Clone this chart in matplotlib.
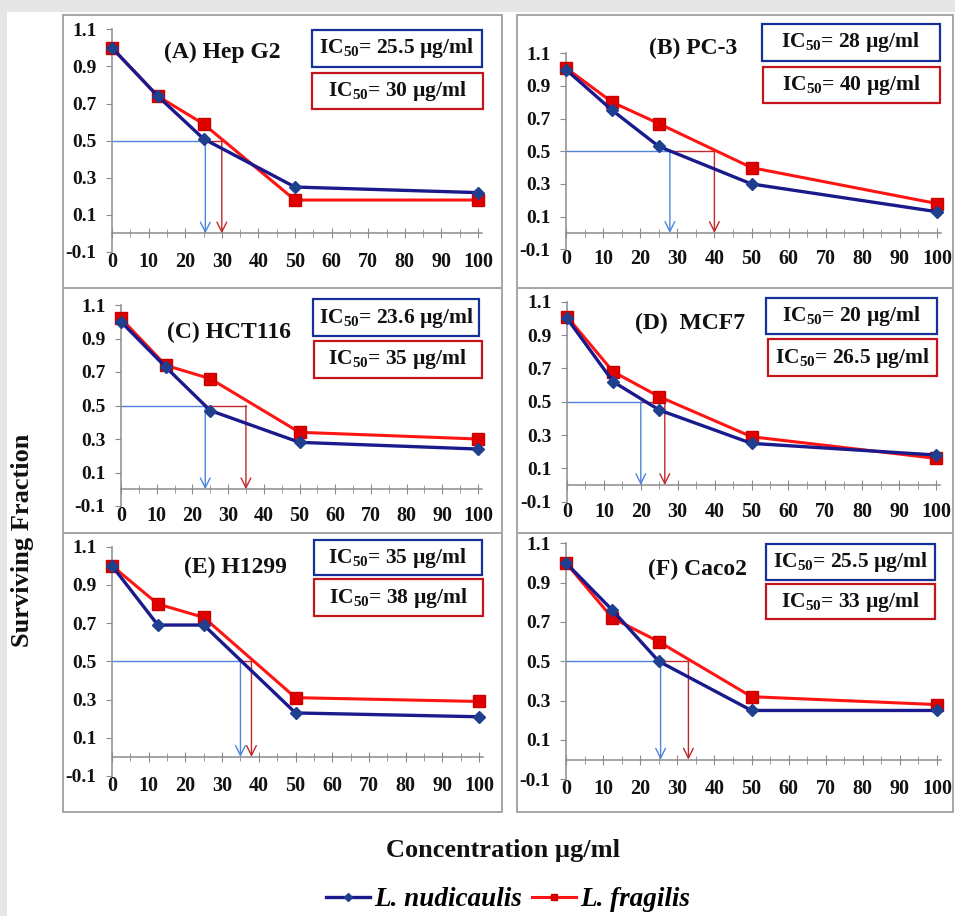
import matplotlib
matplotlib.use("Agg")
import matplotlib.pyplot as plt
from matplotlib.patches import Rectangle
from matplotlib.lines import Line2D

# ── fonts ──
plt.rcParams['font.family'] = ['Liberation Serif', 'DejaVu Serif']
plt.rcParams['font.weight'] = 'bold'
plt.rcParams['mathtext.fontset'] = 'custom'
plt.rcParams['mathtext.rm'] = 'Liberation Serif:bold'
plt.rcParams['mathtext.it'] = 'Liberation Serif:bold'
plt.rcParams['mathtext.bf'] = 'Liberation Serif:bold'

# ── data ──
conc = [0, 12.5, 25, 50, 100]

hepg2_nud = [1.00, 0.74, 0.51, 0.25, 0.22]
hepg2_frag = [1.00, 0.74, 0.59, 0.18, 0.18]
pc3_nud = [1.00, 0.75, 0.53, 0.30, 0.13]
pc3_frag = [1.01, 0.80, 0.67, 0.40, 0.18]
hct116_nud = [1.00, 0.73, 0.47, 0.28, 0.24]
hct116_frag = [1.02, 0.74, 0.66, 0.34, 0.30]
mcf7_nud = [1.00, 0.62, 0.45, 0.25, 0.18]
mcf7_frag = [1.01, 0.68, 0.53, 0.29, 0.16]
h1299_nud = [1.00, 0.69, 0.69, 0.23, 0.21]
h1299_frag = [1.00, 0.80, 0.73, 0.31, 0.29]
caco2_nud = [1.00, 0.76, 0.50, 0.25, 0.25]
caco2_frag = [1.00, 0.72, 0.60, 0.32, 0.28]

titles = ['(A) Hep G2', '(B) PC-3', '(C) HCT116', '(D)  MCF7', '(E) H1299', '(F) Caco2']
ic50_nud = [25.5, 28, 23.6, 20, 35, 25.5]
ic50_frag = [30, 40, 35, 26.5, 38, 33]
ic50_nud_txt = ['25.5', '28', '23.6', '20', '35', '25.5']
ic50_frag_txt = ['30', '40', '35', '26.5', '38', '33']

nud_sets = [hepg2_nud, pc3_nud, hct116_nud, mcf7_nud, h1299_nud, caco2_nud]
frag_sets = [hepg2_frag, pc3_frag, hct116_frag, mcf7_frag, h1299_frag, caco2_frag]

# ── layout (pixels of the 955x916 picture) ──
W, H = 955, 916
ax_left = [112, 566, 121, 567, 112, 566]
ax_x100 = [478, 937, 478, 936, 479, 937]
ax_top = [29.3, 53.3, 305, 301.7, 546.7, 543.3]
ax_bot = [252, 249.3, 506, 501.7, 776, 779.3]
frames = [(63, 15, 502, 288), (517, 15, 953, 288),
          (63, 288, 502, 533), (517, 288, 953, 533),
          (63, 533, 502, 812), (517, 533, 953, 812)]
title_pos = [(222, 52), (693, 48), (229, 332), (690, 323), (235, 567), (697, 569)]
box_nud = [(311.7, 30, 481.7, 66.7), (761.7, 24, 940, 61), (313, 299, 479, 336),
           (766, 298, 937, 334), (314, 540, 481.7, 575), (766, 544, 935, 580)]
box_frag = [(311.7, 72.7, 483, 109.3), (762.7, 66.7, 940, 102.7), (314, 341, 481.7, 377.7),
            (767.7, 339, 937, 376), (314, 579, 483, 616), (766, 584, 935, 619)]

NAVY = '#1a1a8c'
NAVY_MK = '#1f3f8f'
RED = '#ff1414'
RED_MK = '#e00000'
IC_BLUE = '#4f84dc'
IC_RED = '#c0282d'
GRAY = '#8c8c8c'


def fx(x):
    return x / W


def fy(y):
    return 1 - y / H


fig = plt.figure(figsize=(9.55, 9.16), dpi=100)
fig.patch.set_facecolor('#e6e6e6')
fig.add_artist(Rectangle((fx(7), 0), 1 - fx(7), fy(12), transform=fig.transFigure,
                         facecolor='white', edgecolor='none', zorder=-10))

for (x0, y0, x1, y1) in frames:
    fig.add_artist(Rectangle((fx(x0), fy(y1)), (x1 - x0) / W, (y1 - y0) / H,
                             transform=fig.transFigure, facecolor='none',
                             edgecolor='#a6a6a6', lw=1.4, zorder=-5))


def px_box(b, color, text):
    x0, y0, x1, y1 = b
    fig.add_artist(Rectangle((fx(x0), fy(y1)), (x1 - x0) / W, (y1 - y0) / H,
                             transform=fig.transFigure, facecolor='white',
                             edgecolor=color, lw=1.6, zorder=5))
    fig.text(fx((x0 + x1) / 2), fy((y0 + y1) / 2), text, ha='center', va='center',
             fontsize=15.5, fontweight='bold', color='#111111', zorder=6)


for i in range(6):
    w = (ax_x100[i] - ax_left[i]) * 1.01
    ax = fig.add_axes([fx(ax_left[i]), fy(ax_bot[i]), w / W, (ax_bot[i] - ax_top[i]) / H])
    ax.set_facecolor('none')
    ax.set_xlim(0, 101)
    ax.set_ylim(-0.1, 1.1)

    # IC50 guide lines
    ax.plot([ic50_nud[i], ic50_frag[i]], [0.5, 0.5], color=IC_RED, lw=1.0, zorder=2)
    ax.plot([0, ic50_nud[i]], [0.5, 0.5], color=IC_BLUE, lw=1.0, zorder=2)
    ax.annotate('', xy=(ic50_frag[i], 0), xytext=(ic50_frag[i], 0.5),
                arrowprops=dict(arrowstyle='->,head_width=0.35,head_length=0.7',
                                color=IC_RED, lw=1.0, shrinkA=0, shrinkB=0), zorder=2)
    ax.annotate('', xy=(ic50_nud[i], 0), xytext=(ic50_nud[i], 0.5),
                arrowprops=dict(arrowstyle='->,head_width=0.35,head_length=0.7',
                                color=IC_BLUE, lw=1.0, shrinkA=0, shrinkB=0), zorder=2)

    # series
    ax.plot(conc, frag_sets[i], color=RED, lw=2.2, marker='s', ms=8.5,
            mfc=RED_MK, mec='#c80000', clip_on=False, zorder=3)
    ax.plot(conc, nud_sets[i], color=NAVY, lw=2.4, marker='D', ms=6.5,
            mfc=NAVY_MK, mec=NAVY_MK, clip_on=False, zorder=4)

    # axes styling
    for s in ['top', 'right']:
        ax.spines[s].set_visible(False)
    ax.spines['bottom'].set_position(('data', 0))
    ax.spines['bottom'].set_color(GRAY)
    ax.spines['left'].set_color(GRAY)
    ax.spines['bottom'].set_linewidth(1.1)
    ax.spines['left'].set_linewidth(1.1)
    ax.set_xticks(range(0, 101, 10))
    ax.set_xticks(range(5, 100, 10), minor=True)
    ax.tick_params(axis='x', which='major', direction='inout', length=7, color=GRAY,
                   labelbottom=False)
    ax.tick_params(axis='x', which='minor', direction='inout', length=6, color=GRAY)
    ax.set_yticks([-0.1, 0.1, 0.3, 0.5, 0.7, 0.9, 1.1])
    ax.set_yticklabels(['-0.1', '0.1', '0.3', '0.5', '0.7', '0.9', '1.1'])
    ax.tick_params(axis='y', direction='out', length=4, color=GRAY, pad=7,
                   labelsize=14, labelcolor='#111111')

    sec = ax.secondary_xaxis('bottom')
    sec.set_xticks(range(0, 101, 10))
    sec.spines['bottom'].set_visible(False)
    sec.tick_params(axis='x', length=0, pad=0, labelsize=14.5, labelcolor='#111111')

    tx, ty = title_pos[i]
    fig.text(fx(tx), fy(ty), titles[i], ha='center', va='center',
             fontsize=17, fontweight='bold', color='#111111')

    px_box(box_nud[i], '#16309a', 'IC$_{50}$= ' + ic50_nud_txt[i] + ' µg/ml')
    px_box(box_frag[i], '#c4141c', 'IC$_{50}$= ' + ic50_frag_txt[i] + ' µg/ml')

fig.text(fx(23), fy(540), 'Surviving Fraction', rotation=90, ha='center', va='center',
         fontsize=19, fontweight='bold', color='#111111')
fig.text(fx(503), fy(850), 'Concentration µg/ml', ha='center', va='center',
         fontsize=19, fontweight='bold', color='#111111')

handles = [Line2D([], [], color=NAVY, lw=2.4, marker='D', ms=4, mfc=NAVY_MK, mec=NAVY_MK),
           Line2D([], [], color=RED, lw=2.2, marker='s', ms=5, mfc=RED_MK, mec='#c80000')]
fig.legend(handles, ['L. nudicaulis', 'L. fragilis'], loc='center',
           bbox_to_anchor=(fx(508), fy(900)), ncol=2, frameon=False,
           handlelength=1.6, handletextpad=0.15, columnspacing=0.4,
           prop={'family': 'Liberation Serif', 'style': 'italic', 'weight': 'bold', 'size': 19.5})

fig.savefig('out.png', dpi=100, facecolor=fig.get_facecolor())
